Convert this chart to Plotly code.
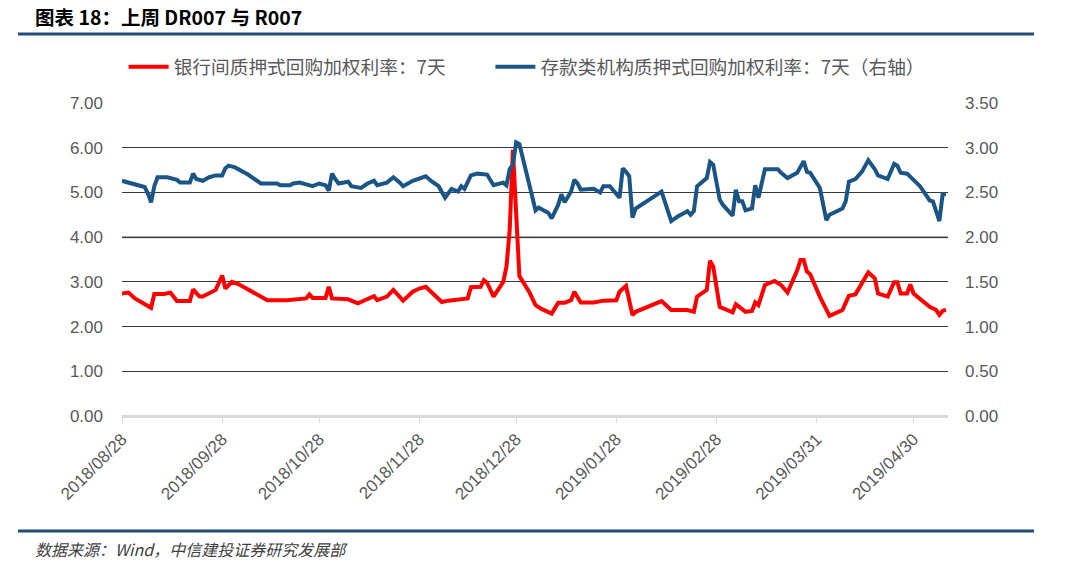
import plotly.graph_objects as go

# ---------------- data ----------------
r007_dates = [
    "2018-08-28", "2018-08-30",
    "2018-09-01", "2018-09-03", "2018-09-06", "2018-09-07", "2018-09-10", "2018-09-12", "2018-09-14",
    "2018-09-18", "2018-09-19", "2018-09-21", "2018-09-22", "2018-09-26", "2018-09-28", "2018-09-29",
    "2018-10-01", "2018-10-03", "2018-10-12", "2018-10-18", "2018-10-22", "2018-10-24", "2018-10-25",
    "2018-10-26", "2018-10-30", "2018-10-31",
    "2018-11-01", "2018-11-06", "2018-11-09", "2018-11-14", "2018-11-15", "2018-11-18", "2018-11-20",
    "2018-11-22", "2018-11-23", "2018-11-26", "2018-11-28", "2018-11-30",
    "2018-12-03", "2018-12-05", "2018-12-07", "2018-12-12", "2018-12-13", "2018-12-14", "2018-12-17",
    "2018-12-18", "2018-12-19", "2018-12-21", "2018-12-24", "2018-12-25", "2018-12-26", "2018-12-27",
    "2018-12-28", "2018-12-29",
    "2019-01-01", "2019-01-03", "2019-01-05", "2019-01-08", "2019-01-10", "2019-01-12", "2019-01-14",
    "2019-01-15", "2019-01-17", "2019-01-21", "2019-01-24", "2019-01-28", "2019-01-29", "2019-01-31",
    "2019-02-02", "2019-02-03", "2019-02-11", "2019-02-14", "2019-02-19", "2019-02-21", "2019-02-22",
    "2019-02-25", "2019-02-26", "2019-02-27",
    "2019-03-01", "2019-03-02", "2019-03-05", "2019-03-06", "2019-03-07", "2019-03-09", "2019-03-11",
    "2019-03-12", "2019-03-13", "2019-03-15", "2019-03-18", "2019-03-20", "2019-03-22", "2019-03-25",
    "2019-03-26", "2019-03-27", "2019-03-28", "2019-03-29",
    "2019-04-01", "2019-04-04", "2019-04-08", "2019-04-10", "2019-04-12", "2019-04-14", "2019-04-16",
    "2019-04-18", "2019-04-19", "2019-04-22", "2019-04-24", "2019-04-25", "2019-04-26", "2019-04-28",
    "2019-04-29", "2019-04-30",
    "2019-05-05", "2019-05-07", "2019-05-08", "2019-05-09", "2019-05-10",
]
r007_values = [
    2.74, 2.76,
    2.63, 2.55, 2.42, 2.73, 2.73, 2.76, 2.57,
    2.57, 2.83, 2.67, 2.67, 2.82, 3.14, 2.85,
    3.00, 2.95, 2.59, 2.59, 2.63, 2.63, 2.72,
    2.64, 2.64, 2.89,
    2.63, 2.61, 2.52, 2.68, 2.59, 2.67, 2.82,
    2.67, 2.58, 2.78, 2.85, 2.89,
    2.67, 2.55, 2.58, 2.61, 2.63, 2.88, 2.89,
    3.04, 2.98, 2.67, 3.00, 3.34, 4.16, 5.95,
    4.60, 3.13,
    2.78, 2.48, 2.39, 2.29, 2.53, 2.53, 2.59,
    2.78, 2.54, 2.54, 2.58, 2.59, 2.78, 2.91,
    2.26, 2.33, 2.57, 2.37, 2.37, 2.33, 2.67,
    2.82, 3.47, 3.34,
    2.44, 2.41, 2.32, 2.50, 2.44, 2.33, 2.35,
    2.54, 2.48, 2.93, 3.02, 2.93, 2.76, 3.26,
    3.49, 3.49, 3.23, 3.17,
    2.67, 2.24, 2.37, 2.69, 2.72, 2.97, 3.21,
    3.08, 2.74, 2.67, 2.99, 2.99, 2.74, 2.74,
    2.94, 2.74,
    2.44, 2.37, 2.26, 2.35, 2.38,
]

dr007_dates = [
    "2018-08-28", "2018-08-30",
    "2018-09-02", "2018-09-04", "2018-09-05", "2018-09-06", "2018-09-07", "2018-09-08", "2018-09-11",
    "2018-09-14", "2018-09-15", "2018-09-18", "2018-09-19", "2018-09-20", "2018-09-22", "2018-09-24",
    "2018-09-26", "2018-09-28", "2018-09-29", "2018-09-30",
    "2018-10-02", "2018-10-06", "2018-10-10", "2018-10-15", "2018-10-16", "2018-10-19", "2018-10-20",
    "2018-10-22", "2018-10-24", "2018-10-26", "2018-10-28", "2018-10-30", "2018-10-31",
    "2018-11-01", "2018-11-02", "2018-11-03", "2018-11-06", "2018-11-07", "2018-11-10", "2018-11-12",
    "2018-11-14", "2018-11-15", "2018-11-18", "2018-11-20", "2018-11-22", "2018-11-23", "2018-11-26",
    "2018-11-28", "2018-11-30",
    "2018-12-02", "2018-12-04", "2018-12-06", "2018-12-08", "2018-12-10", "2018-12-11", "2018-12-12",
    "2018-12-14", "2018-12-16", "2018-12-19", "2018-12-21", "2018-12-24", "2018-12-25", "2018-12-26",
    "2018-12-27", "2018-12-28", "2018-12-29",
    "2019-01-03", "2019-01-04", "2019-01-07", "2019-01-08", "2019-01-10", "2019-01-11", "2019-01-12",
    "2019-01-14", "2019-01-15", "2019-01-16", "2019-01-17", "2019-01-21", "2019-01-23", "2019-01-24",
    "2019-01-26", "2019-01-29", "2019-01-30", "2019-01-31",
    "2019-02-01", "2019-02-02", "2019-02-03", "2019-02-11", "2019-02-14", "2019-02-16", "2019-02-19",
    "2019-02-20", "2019-02-21", "2019-02-22", "2019-02-25", "2019-02-26", "2019-02-27",
    "2019-03-01", "2019-03-02", "2019-03-05", "2019-03-06", "2019-03-07", "2019-03-08", "2019-03-09",
    "2019-03-11", "2019-03-12", "2019-03-13", "2019-03-15", "2019-03-19", "2019-03-20", "2019-03-22",
    "2019-03-25", "2019-03-27", "2019-03-28", "2019-03-29",
    "2019-04-01", "2019-04-02", "2019-04-03", "2019-04-04", "2019-04-08", "2019-04-09", "2019-04-10",
    "2019-04-12", "2019-04-14", "2019-04-16", "2019-04-18", "2019-04-19", "2019-04-22", "2019-04-24",
    "2019-04-25", "2019-04-26", "2019-04-28",
    "2019-05-02", "2019-05-05", "2019-05-06", "2019-05-07", "2019-05-08", "2019-05-09", "2019-05-10",
]
dr007_values = [
    2.63, 2.61,
    2.59, 2.56, 2.49, 2.39, 2.57, 2.67, 2.67,
    2.64, 2.61, 2.61, 2.71, 2.65, 2.63, 2.67,
    2.69, 2.69, 2.77, 2.80,
    2.78, 2.70, 2.60, 2.60, 2.58, 2.58, 2.60,
    2.61, 2.59, 2.57, 2.60, 2.58, 2.52,
    2.71, 2.65, 2.60, 2.62, 2.57, 2.55, 2.60,
    2.63, 2.58, 2.61, 2.67, 2.61, 2.57, 2.63,
    2.65, 2.68,
    2.62, 2.57, 2.44, 2.54, 2.51, 2.57, 2.54,
    2.69, 2.71, 2.70, 2.58, 2.61, 2.58, 2.76,
    2.81, 3.06, 3.04,
    2.30, 2.33, 2.27, 2.21, 2.36, 2.48, 2.39,
    2.51, 2.64, 2.60, 2.53, 2.54, 2.50, 2.57,
    2.57, 2.44, 2.77, 2.73,
    2.68, 2.22, 2.32, 2.51, 2.18, 2.23, 2.29,
    2.25, 2.29, 2.57, 2.66, 2.84, 2.81,
    2.42, 2.36, 2.24, 2.53, 2.40, 2.40, 2.30,
    2.32, 2.58, 2.44, 2.76, 2.76, 2.72, 2.66,
    2.72, 2.85, 2.73, 2.72,
    2.55, 2.38, 2.19, 2.25, 2.32, 2.40, 2.62,
    2.65, 2.73, 2.86, 2.76, 2.69, 2.65, 2.82,
    2.80, 2.72, 2.71,
    2.57, 2.41, 2.40, 2.27, 2.18, 2.48, 2.48,
]

tick_dates = ["2018-08-28", "2018-09-28", "2018-10-28", "2018-11-28", "2018-12-28",
              "2019-01-28", "2019-02-28", "2019-03-31", "2019-04-30"]
tick_labels = ["2018/08/28", "2018/09/28", "2018/10/28", "2018/11/28", "2018/12/28",
               "2019/01/28", "2019/02/28", "2019/03/31", "2019/04/30"]
left_ticks = [0, 1, 2, 3, 4, 5, 6, 7]
right_ticks = [0, 0.5, 1, 1.5, 2, 2.5, 3, 3.5]

name_r = "银行间质押式回购加权利率：7天"
name_dr = "存款类机构质押式回购加权利率：7天（右轴）"
title_text = "图表 18：上周 DR007 与 R007"
source_text = "数据来源：Wind，中信建投证券研究发展部"

RED = "#FF0000"
BLUE = "#1B5585"
DARK_BLUE = "#1F4E79"
GREY_TXT = "#595959"
CJK = "Noto Sans CJK SC"
LAT = "Liberation Sans, Arial"

fig = go.Figure()
fig.add_trace(go.Scatter(x=r007_dates, y=r007_values, name=name_r, mode="lines",
                         line=dict(color=RED, width=4), yaxis="y", legend="legend"))
fig.add_trace(go.Scatter(x=dr007_dates, y=dr007_values, name=name_dr, mode="lines",
                         line=dict(color=BLUE, width=4), yaxis="y2", legend="legend2"))

legend_font = dict(family=CJK, size=18.7, color=GREY_TXT)

fig.update_layout(
    width=1080, height=571,
    margin=dict(l=122, r=132, t=103, b=155),
    paper_bgcolor="white", plot_bgcolor="white",
    showlegend=True,
    legend=dict(orientation="h", x=0.002, xanchor="left", y=1.115, yanchor="middle",
                font=legend_font, bgcolor="rgba(0,0,0,0)", itemwidth=40),
    legend2=dict(orientation="h", x=0.446, xanchor="left", y=1.115, yanchor="middle",
                 font=legend_font, bgcolor="rgba(0,0,0,0)", itemwidth=40),
    xaxis=dict(type="date", range=["2018-08-28", "2019-05-10 16:00"],
               tickmode="array", tickvals=tick_dates, ticktext=tick_labels,
               tickangle=-45, tickfont=dict(family=LAT, size=17, color=GREY_TXT),
               showgrid=False, showline=True, linecolor="#D9D9D9", linewidth=1.5,
               ticks="outside", ticklen=5, tickcolor="#D9D9D9", zeroline=False),
    yaxis=dict(range=[0, 7], tickmode="array", tickvals=left_ticks,
               tickformat=".2f", tickfont=dict(family=LAT, size=17, color=GREY_TXT),
               showgrid=True, gridcolor="#3A3A3A", gridwidth=1,
               zeroline=False, showline=False, ticks="", ticklabelstandoff=18),
    yaxis2=dict(range=[0, 3.5], overlaying="y", side="right", tickmode="array",
                tickvals=right_ticks, tickformat=".2f",
                tickfont=dict(family=LAT, size=17, color=GREY_TXT),
                showgrid=False, zeroline=False, showline=False, ticks="",
                ticklabelstandoff=16),
)

# grey middle gridline and light baseline
fig.add_shape(type="line", xref="paper", yref="y", x0=0, x1=1, y0=4, y1=4,
              line=dict(color="#8C8C8C", width=2), layer="below")
fig.add_shape(type="line", xref="paper", yref="y", x0=0, x1=1, y0=0, y1=0,
              line=dict(color="#D9D9D9", width=2), layer="below")

# title and source bars
fig.add_shape(type="line", xref="paper", yref="paper", x0=-0.1259, x1=1.1041,
              y0=1.2204, y1=1.2204, line=dict(color=DARK_BLUE, width=3))
fig.add_shape(type="line", xref="paper", yref="paper", x0=-0.1259, x1=1.1041,
              y0=-0.3674, y1=-0.3674, line=dict(color=DARK_BLUE, width=3))

fig.add_annotation(text="<b>" + title_text + "</b>", xref="paper", yref="paper",
                   x=-0.1077, y=1.2748, xanchor="left", yanchor="middle", showarrow=False,
                   font=dict(family=CJK, size=19.5, color="#000000"))
fig.add_annotation(text="<i>" + source_text + "</i>", xref="paper", yref="paper",
                   x=-0.1077, y=-0.4249, xanchor="left", yanchor="middle", showarrow=False,
                   font=dict(family=CJK, size=16, color="#404040"))

fig.write_html("out.html")
